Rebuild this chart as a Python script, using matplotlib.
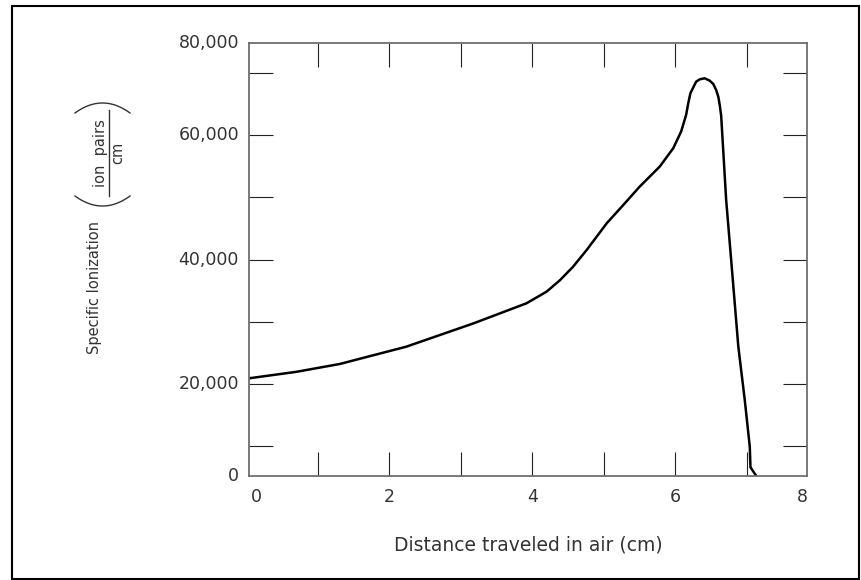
import numpy as np
import matplotlib.pyplot as plt
from matplotlib.lines import Line2D
from matplotlib.patches import Rectangle

# distance (cm) and specific ionization (ion pairs / cm)
dist = [0.04, 0.70, 1.31, 2.24, 3.18, 3.92, 4.20, 4.39, 4.57, 4.76, 5.04,
        5.25, 5.50, 5.78, 5.97, 6.08, 6.15, 6.18, 6.21, 6.29, 6.34, 6.41,
        6.48, 6.53, 6.57, 6.60, 6.62, 6.64, 6.71, 6.78, 6.88, 6.97, 7.04,
        7.05, 7.13]
ion = [20860, 21900, 23170, 25960, 29720, 32950, 34820, 36700, 38840, 41530,
       45830, 48500, 51730, 54950, 57920, 60600, 63280, 65170, 66780, 68650,
       69030, 69200, 68810, 68280, 67310, 66230, 64890, 63200, 49590, 39920,
       25960, 17370, 9840, 6520, 5150]

x_ticks = [1, 2, 3, 4, 5, 6, 7]
y_ticks = [10000, 20000, 30000, 40000, 50000, 60000, 70000]

xlim = (0.04, 7.84)
ylim = (5120, 74930)

# tick labels sit where the original drew them (ends are pinned to the frame)
x_labels = ["0", "2", "4", "6", "8"]
x_label_pos = [0.15, 2, 4, 6, 7.78]
y_labels = ["0", "20,000", "40,000", "60,000", "80,000"]
y_label_pos = [ylim[0], 20000, 40000, 60000, ylim[1]]

text_col = "#333333"
spine_col = "#6e6e6e"
plt.rcParams["font.family"] = ["DejaVu Sans"]

W, H = 861, 580
fig = plt.figure(figsize=(W / 100, H / 100), dpi=100)
ax = fig.add_axes([249 / W, 1 - 476 / H, 558 / W, 433.3 / H])

ax.plot(dist, ion, color="black", lw=1.8, solid_joinstyle="round")
ax.set_xlim(*xlim)
ax.set_ylim(*ylim)

ax.set_xticks(x_ticks)
ax.set_yticks(y_ticks)
ax.tick_params(direction="in", length=17.6, width=0.8, color="#222222",
               top=True, right=True, labelbottom=False, labelleft=False)
for s in ax.spines.values():
    s.set_color(spine_col)
    s.set_linewidth(1.3)

for lab, pos in zip(x_labels, x_label_pos):
    ax.text(pos, -21 / 433.3, lab, transform=ax.get_xaxis_transform(),
            ha="center", va="center", fontsize=12.5, color=text_col)
for lab, pos in zip(y_labels, y_label_pos):
    ax.text(-10 / 558, pos, lab, transform=ax.get_yaxis_transform(),
            ha="right", va="center", fontsize=12.5, color=text_col)

fig.text(528 / W, 1 - 545 / H, "Distance traveled in air (cm)", ha="center",
         va="center", fontsize=13.5, color=text_col)

# y label built by hand: text plus a fraction in big parentheses
fig.text(95 / W, 1 - 288 / H, "Specific Ionization", rotation=90,
         ha="center", va="center", fontsize=10.5, color=text_col)
fig.text(100 / W, 1 - 153 / H, "ion  pairs", rotation=90,
         ha="center", va="center", fontsize=10.5, color=text_col)
fig.text(118 / W, 1 - 153 / H, "cm", rotation=90,
         ha="center", va="center", fontsize=10.5, color=text_col)
fig.add_artist(Line2D([109 / W, 109 / W], [1 - 110 / H, 1 - 196 / H],
                      color=text_col, lw=1.0))
t = np.linspace(-1, 1, 40)
px = 102.5 + 27.5 * t
fig.add_artist(Line2D(px / W, 1 - (103 + 10 * t ** 2) / H, color=text_col, lw=1.0))
fig.add_artist(Line2D(px / W, 1 - (206 - 10 * t ** 2) / H, color=text_col, lw=1.0))

# outer frame
fig.add_artist(Rectangle((12 / W, 1 / H), 847 / W, 573 / H, transform=fig.transFigure,
                         fill=False, edgecolor="black", lw=1.5))

fig.savefig("out.png", dpi=100)
